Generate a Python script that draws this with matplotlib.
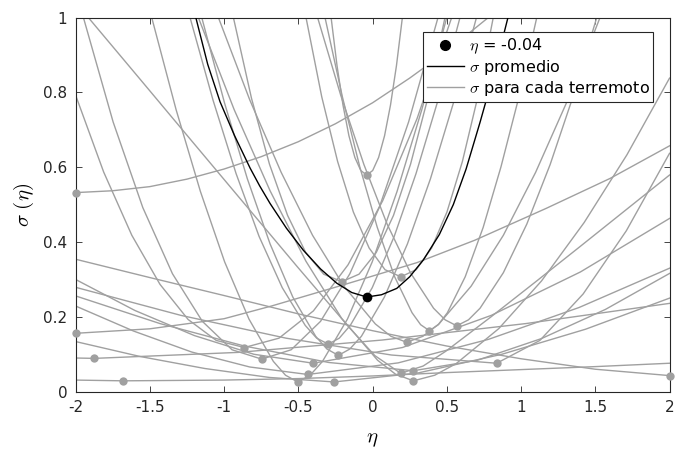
import matplotlib
matplotlib.use("Agg")
import matplotlib.pyplot as plt
from matplotlib.lines import Line2D

plt.rcParams['mathtext.fontset'] = 'cm'
plt.rcParams['axes.unicode_minus'] = False
plt.rcParams['font.family'] = ['DejaVu Sans']

# sigma(eta) for each earthquake (gray)
a_eta = [-2, -1.75, -1.5, -1.25, -1.0, -0.75, -0.5, -0.25, 0, 0.25, 0.5, 0.78]
a_sig = [0.532, 0.537, 0.548, 0.568, 0.595, 0.628, 0.668, 0.716, 0.772, 0.838, 0.91, 1.0]
b_eta = [-0.279, -0.239, -0.199, -0.159, -0.119, -0.079, -0.039, 0.001, 0.041, 0.081, 0.121, 0.161, 0.201]
b_sig = [1, 0.871, 0.766, 0.684, 0.626, 0.591, 0.579, 0.591, 0.626, 0.684, 0.766, 0.871, 1]
c_eta = [-2, -1.5, -1, -0.68, -0.2, 0.3, 0.69, 1.17, 1.6, 2]
c_sig = [0.156, 0.168, 0.195, 0.229, 0.285, 0.345, 0.405, 0.49, 0.57, 0.657]
d_eta = [-2, -1.873, -0.905, 0.064, 1.032, 2]
d_sig = [0.09, 0.089, 0.105, 0.138, 0.182, 0.236]
e_eta = [-2, -1.678, -1, -0.5, 0, 0.5, 1, 1.5, 2]
e_sig = [0.031, 0.029, 0.031, 0.035, 0.042, 0.051, 0.059, 0.067, 0.076]
f_eta = [-2, -1.8105, -1.621, -1.4315, -1.242, -1.0525, -0.863, -0.630, -0.398, -0.165, 0.068, 0.300, 0.533]
f_sig = [0.793, 0.587, 0.418, 0.287, 0.193, 0.137, 0.118, 0.143, 0.216, 0.339, 0.510, 0.730, 1]
g_eta = [-1.947, -1.747, -1.547, -1.347, -1.146, -0.946, -0.746, -0.548, -0.350, -0.153, 0.045, 0.243, 0.441]
g_sig = [1, 0.721, 0.492, 0.315, 0.188, 0.112, 0.087, 0.112, 0.188, 0.315, 0.492, 0.721, 1]
h_eta = [-1.487, -1.323, -1.159, -0.996, -0.832, -0.668, -0.586, -0.504, -0.420, -0.337, -0.169, -0.002, 0.165, 0.332, 0.50]
h_sig = [1, 0.754, 0.535, 0.347, 0.194, 0.081, 0.044, 0.026, 0.044, 0.081, 0.194, 0.347, 0.535, 0.754, 1]
i_eta = [-2, -1.609, -1.218, -0.827, -0.436, 0.173, 0.782, 1.391, 2]
i_sig = [0.229, 0.162, 0.106, 0.066, 0.046, 0.077, 0.140, 0.225, 0.330]
j_eta = [-2, -1.600, -1.200, -0.799, -0.399, 0.201, 0.800, 1.400, 2]
j_sig = [0.300, 0.217, 0.150, 0.100, 0.076, 0.118, 0.204, 0.320, 0.463]
k_eta = [-1.229, -1.074, -0.919, -0.764, -0.608, -0.453, -0.376, -0.298, -0.224, -0.150, -0.002, 0.146, 0.293, 0.441, 0.589]
k_sig = [1, 0.779, 0.583, 0.415, 0.278, 0.177, 0.143, 0.127, 0.143, 0.177, 0.278, 0.415, 0.583, 0.779, 1]
l_eta = [-2, -1.565, -1.130, -0.694, -0.259, 0.306, 0.871, 1.435, 2]
l_sig = [0.134, 0.094, 0.062, 0.038, 0.026, 0.050, 0.100, 0.167, 0.250]
m_eta = [-1.150, -0.997, -0.843, -0.690, -0.537, -0.383, -0.307, -0.230, -0.153, -0.075, 0.080, 0.235, 0.390, 0.545, 0.70]
m_sig = [1, 0.772, 0.569, 0.395, 0.253, 0.148, 0.114, 0.097, 0.114, 0.148, 0.253, 0.395, 0.569, 0.772, 1]
n_eta = [-0.937, -0.815, -0.694, -0.572, -0.450, -0.329, -0.207, -0.091, 0.025, 0.141, 0.256, 0.372, 0.488]
n_sig = [1, 0.784, 0.608, 0.471, 0.372, 0.314, 0.294, 0.314, 0.372, 0.471, 0.608, 0.784, 1]
o_eta = [-0.448, -0.342, -0.235, -0.129, -0.023, 0.084, 0.19, 0.294, 0.398, 0.501, 0.605, 0.709, 0.813]
o_sig = [1, 0.788, 0.615, 0.480, 0.384, 0.326, 0.307, 0.326, 0.384, 0.480, 0.615, 0.788, 1]
p_eta = [-1.038, -0.827, -0.615, -0.404, -0.193, 0.019, 0.124, 0.23, 0.339, 0.447, 0.664, 0.881, 1.098, 1.315, 1.532]
p_sig = [1, 0.780, 0.586, 0.418, 0.282, 0.181, 0.148, 0.132, 0.148, 0.181, 0.282, 0.418, 0.586, 0.780, 1]
q_eta = [-1.914, -1.563, -1.213, -0.862, -0.511, -0.161, 0.015, 0.19, 0.341, 0.493, 0.793, 1.095, 1.397, 1.698, 2]
q_sig = [1, 0.834, 0.668, 0.502, 0.336, 0.1735, 0.0966, 0.049, 0.0686, 0.108, 0.1985, 0.2926, 0.3877, 0.4832, 0.579]
r_eta = [-2, -1.431, -0.863, -0.294, 0.275, 0.706, 1.138, 1.569, 2]
r_sig = [0.256, 0.182, 0.122, 0.078, 0.056, 0.084, 0.142, 0.220, 0.316]
s_eta = [-1.173, -0.932, -0.690, -0.449, -0.208, 0.034, 0.154, 0.275, 0.419, 0.563, 0.850, 1.138, 1.425, 1.713, 2]
s_sig = [1, 0.754, 0.537, 0.349, 0.196, 0.084, 0.047, 0.029, 0.044, 0.075, 0.1685, 0.296, 0.452, 0.633, 0.838]
t_eta = [-0.32, -0.203, -0.086, 0.032, 0.149, 0.266, 0.324, 0.383, 0.443, 0.504, 0.624, 0.745, 0.865, 0.986, 1.106]
t_sig = [1, 0.788, 0.601, 0.439, 0.307, 0.211, 0.179, 0.163, 0.179, 0.211, 0.307, 0.439, 0.601, 0.788, 1]
u_eta = [-0.37, -0.214, -0.058, 0.098, 0.255, 0.411, 0.489, 0.567, 0.646, 0.724, 0.881, 1.039, 1.196, 1.353, 1.51]
u_sig = [1, 0.792, 0.607, 0.448, 0.318, 0.223, 0.192, 0.176, 0.192, 0.223, 0.318, 0.448, 0.607, 0.792, 1]
v_eta = [-2, -1.291, -0.582, 0.127, 0.836, 1.127, 1.418, 1.709, 2]
v_sig = [0.279, 0.204, 0.143, 0.098, 0.076, 0.137, 0.261, 0.430, 0.637]
w_eta = [-2, -1.5, -1, -0.5, 0, 0.5, 1, 1.5, 2]
w_sig = [0.354, 0.305, 0.257, 0.208, 0.163, 0.122, 0.088, 0.060, 0.043]

# minimum of each gray curve
min_eta = [-2, -0.039, -2, -1.873, -1.678, -0.863, -0.746, -0.504, -0.436, -0.399, -0.298, -0.259,
           -0.230, -0.207, 0.19, 0.23, 0.19, 0.275, 0.275, 0.383, 0.567, 0.836, 2]
min_sig = [0.532, 0.579, 0.156, 0.089, 0.029, 0.118, 0.087, 0.026, 0.046, 0.076, 0.127, 0.026,
           0.097, 0.294, 0.307, 0.132, 0.049, 0.056, 0.029, 0.163, 0.176, 0.076, 0.043]

# averaged sigma (black)
avg_eta = [-1.19, -1.11, -1.027, -0.93, -0.825, -0.76, -0.69, -0.58, -0.466, -0.35, -0.241, -0.14,
           -0.039, 0.06, 0.163, 0.25, 0.342, 0.45, 0.544, 0.63, 0.724, 0.82, 0.912]
avg_sig = [1.0, 0.875, 0.775, 0.685, 0.598, 0.55, 0.503, 0.437, 0.378, 0.328, 0.290, 0.265,
           0.253, 0.259, 0.276, 0.307, 0.352, 0.42, 0.50, 0.595, 0.72, 0.855, 1.0]
best_eta = -0.039
best_sig = 0.253

xticks = [-2, -1.5, -1, -0.5, 0, 0.5, 1, 1.5, 2]
xticklabels = ['-2', '-1.5', '-1', '-0.5', '0', '0.5', '1', '1.5', '2']
yticks = [0, 0.2, 0.4, 0.6, 0.8, 1]
yticklabels = ['0', '0.2', '0.4', '0.6', '0.8', '1']

curves = [(a_eta, a_sig), (b_eta, b_sig), (c_eta, c_sig), (d_eta, d_sig), (e_eta, e_sig),
          (f_eta, f_sig), (g_eta, g_sig), (h_eta, h_sig), (i_eta, i_sig), (j_eta, j_sig),
          (k_eta, k_sig), (l_eta, l_sig), (m_eta, m_sig), (n_eta, n_sig), (o_eta, o_sig),
          (p_eta, p_sig), (q_eta, q_sig), (r_eta, r_sig), (s_eta, s_sig), (t_eta, t_sig),
          (u_eta, u_sig), (v_eta, v_sig), (w_eta, w_sig)]

gray = '#a0a0a0'

fig = plt.figure(figsize=(6.75, 4.5), dpi=100)
ax = fig.add_axes([0.1119, 0.1296, 0.88, 0.8315])

for x, y in curves:
    ax.plot(x, y, color=gray, lw=1.0)
ax.plot(min_eta, min_sig, 'o', color=gray, ms=6, mec='none', clip_on=False, zorder=3)
ax.plot(avg_eta, avg_sig, color='black', lw=1.0, zorder=4)
ax.plot([best_eta], [best_sig], 'o', color='black', ms=7, mec='none', zorder=5)

ax.set_xlim(-2, 2)
ax.set_ylim(0, 1)
ax.set_xticks(xticks)
ax.set_xticklabels(xticklabels)
ax.set_yticks(yticks)
ax.set_yticklabels(yticklabels)
ax.tick_params(direction='in', top=True, right=True, length=4, width=0.6,
               labelsize=11, colors='#262626', pad=6)
for sp in ax.spines.values():
    sp.set_linewidth(0.8)
    sp.set_color('#262626')
ax.set_xlabel(r'$\eta$', fontsize=15, labelpad=10)
ax.set_ylabel(r'$\sigma\ (\eta)$', fontsize=15, labelpad=5)

handles = [Line2D([], [], ls='none', marker='o', color='black', ms=7),
           Line2D([], [], color='black', lw=1.0),
           Line2D([], [], color=gray, lw=1.0)]
labels = [r'$\eta$ = -0.04', r'$\sigma$ promedio', r'$\sigma$ para cada terremoto']
leg = ax.legend(handles, labels, loc='upper right', bbox_to_anchor=(0.973, 0.96),
                fontsize=11.5, frameon=True, fancybox=False, framealpha=1,
                edgecolor='#262626', handlelength=2.3, handletextpad=0.3,
                borderpad=0.25, labelspacing=0.12, borderaxespad=0)
leg.get_frame().set_linewidth(0.8)

fig.savefig('out.png', dpi=100)
